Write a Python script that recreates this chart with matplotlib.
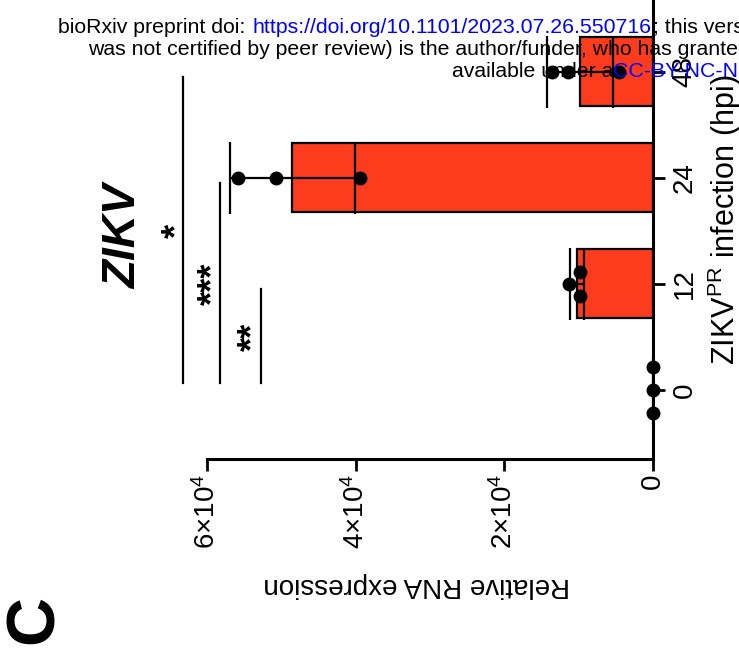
import matplotlib
matplotlib.use('Agg')
import matplotlib.pyplot as plt
import numpy as np

plt.rcParams['font.family'] = 'Liberation Sans'
plt.rcParams['mathtext.fontset'] = 'custom'
plt.rcParams['mathtext.rm'] = 'Liberation Sans'
plt.rcParams['mathtext.it'] = 'Liberation Sans:italic'
plt.rcParams['mathtext.bf'] = 'Liberation Sans:bold'

# data
hpi = ['0', '12', '24', '48']
replicates = [
    [0, 0, 0],
    [9.8e3, 11.3e3, 9.8e3],
    [55.8e3, 50.7e3, 39.4e3],
    [13.6e3, 11.4e3, 4.6e3],
]
mean_expr = [0, 10.2e3, 48.5e3, 9.8e3]
sd_expr = [0, 0.9e3, 8.4e3, 4.4e3]
value_ticks = [0, 2e4, 4e4, 6e4]
value_tick_labels = ['0', r'$\mathregular{2{\times}10^4}$',
                     r'$\mathregular{4{\times}10^4}$', r'$\mathregular{6{\times}10^4}$']
sig_pairs = [(0, 3), (0, 2), (0, 1)]
sig_labels = ['*', '***', '**']

W, H = 739, 659
BAR_RED = '#FD3C1E'


def fx(x):
    return x / W


def fy(y):
    return 1 - y / H


fig = plt.figure(figsize=(W / 100, H / 100), dpi=100)

# header of the preprint page (cropped)
hdr = 15.3
fig.text(fx(58), fy(33), 'bioRxiv preprint doi: ', fontsize=hdr, va='baseline')
fig.text(fx(252), fy(33), 'https://doi.org/10.1101/2023.07.26.550716', fontsize=hdr,
         va='baseline', color='blue')
fig.text(fx(653), fy(33), '; this version posted July 27, 2023. The copyright holder',
         fontsize=hdr, va='baseline')
fig.text(fx(88), fy(55), 'was not certified by peer review) is the author/funder, who has granted bioRxiv a license',
         fontsize=hdr, va='baseline')
fig.text(fx(452), fy(77), 'available under a', fontsize=hdr, va='baseline')
fig.text(fx(613), fy(77), 'CC-BY-NC-ND 4.0 International license.', fontsize=hdr,
         va='baseline', color='blue')

# axes placed so value 0 sits at x=653 px and 6x10^4 at x=207 px
ax = fig.add_axes([fx(207), fy(459), fx(653) - fx(207), (459 + 10) / H])
ax.set_xlim(6e4, 0)
ax.set_ylim(-0.65, 3.77)

idx = np.arange(len(hpi))
ax.barh(idx, mean_expr, height=0.65, color=BAR_RED, edgecolor='black',
        linewidth=1.6, zorder=2)

has_err = np.array(sd_expr) > 0
ax.errorbar(np.array(mean_expr)[has_err], idx[has_err], xerr=np.array(sd_expr)[has_err],
            fmt='none', ecolor='black', elinewidth=1.6, capsize=26, capthick=1.6, zorder=3)

jitter = [[0.22, 0, -0.22], [0.11, 0, -0.11], [0, 0, 0], [0, 0, 0]]
for i, vals in enumerate(replicates):
    ax.plot(vals, i + np.array(jitter[i]), 'o', color='black', ms=9,
            clip_on=False, zorder=5)

# significance brackets
line_x = [63.2e3, 58.2e3, 52.7e3]
star_x = [64.0e3, 59.1e3, 53.7e3]
for (a, b), lab, lx, sx in zip(sig_pairs, sig_labels, line_x, star_x):
    ax.plot([lx, lx], [a + 0.07, b - 0.05], color='black', lw=1.6, clip_on=False)
    ax.text(sx, (a + b) / 2, lab, rotation=90, ha='center', va='center',
            fontsize=26, fontweight='bold')

for s in ['top', 'left']:
    ax.spines[s].set_visible(False)
for s in ['bottom', 'right']:
    ax.spines[s].set_linewidth(2.2)

ax.yaxis.tick_right()
ax.set_yticks(idx)
ax.set_yticklabels(hpi, rotation=90, va='center', fontsize=20)
ax.set_xticks(value_ticks)
ax.set_xticklabels(value_tick_labels, rotation=90, fontsize=20)
ax.tick_params(axis='both', length=8.5, width=2.0)
ax.tick_params(axis='x', pad=2)
ax.tick_params(axis='y', pad=5)

fig.text(fx(417), fy(585), 'Relative RNA expression', rotation=180, ha='center',
         va='center', fontsize=20)
fig.text(fx(735), fy(365), r'ZIKV$^{\mathregular{PR}}$ infection (hpi)', rotation=90,
         rotation_mode='anchor', ha='left', va='baseline', fontsize=22)
fig.text(fx(124), fy(237), 'ZIKV', rotation=90, ha='center', va='center',
         fontsize=33, fontweight='bold', fontstyle='italic')
fig.text(fx(35), fy(619), 'C', rotation=90, ha='center', va='center',
         fontsize=49, fontweight='bold')

fig.savefig('out.png', dpi=100)
